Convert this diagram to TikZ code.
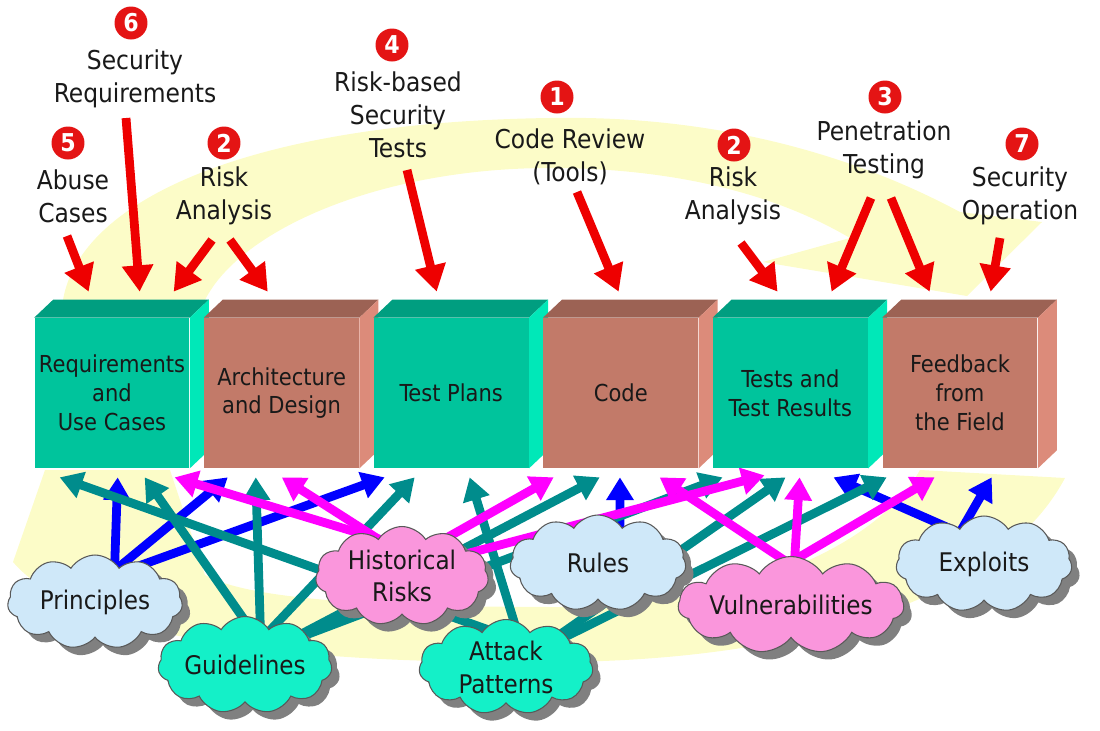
\documentclass[tikz,border=0pt]{standalone}
\usepackage{fontspec}
\setmainfont{DejaVu Sans Condensed}
\usetikzlibrary{shapes.symbols,shadows,arrows.meta,calc}
\pgfdeclarelayer{back}
\pgfdeclarelayer{mid}
\pgfsetlayers{back,mid,main}
\definecolor{yel}{RGB}{252,252,200}
\definecolor{gfront}{RGB}{0,196,156}
\definecolor{gside}{RGB}{0,232,184}
\definecolor{gtop}{RGB}{0,158,128}
\definecolor{bfront}{RGB}{194,122,105}
\definecolor{bside}{RGB}{220,139,122}
\definecolor{btop}{RGB}{156,98,84}
\definecolor{lblue}{RGB}{207,232,249}
\definecolor{lpink}{RGB}{250,150,220}
\definecolor{aqua}{RGB}{20,240,200}
\definecolor{tealc}{RGB}{0,140,140}
\definecolor{bluec}{RGB}{0,0,255}
\definecolor{magc}{RGB}{255,0,255}
\definecolor{redc}{RGB}{238,0,0}
\definecolor{numred}{RGB}{228,20,20}
\definecolor{txt}{RGB}{25,25,25}
\newcommand{\drawfaces}[3]{%
  \fill[#2] (#1.north west) -- ++(19,-18) -- ($(#1.north east)+(19,-18)$) -- (#1.north east) -- cycle;
  \fill[#3] (#1.north east) -- ++(19,-18) -- ($(#1.south east)+(19,-18)$) -- (#1.south east) -- cycle;}
\begin{document}
\begin{tikzpicture}[x=0.02cm,y=-0.02cm,
  boxnode/.style={minimum width=3.1cm,minimum height=3cm,inner sep=0pt,align=center,text=txt,
    font=\fontsize{13.3}{16.4}\selectfont},
  gbox/.style={boxnode,fill=gfront},
  bbox/.style={boxnode,fill=bfront},
  lab/.style={align=center,inner sep=0pt,text=txt,font=\fontsize{14.8}{18.7}\selectfont},
  numc/.style={circle,fill=numred,text=white,inner sep=0pt,minimum size=0.66cm,
    font=\bfseries\fontsize{14}{14}\selectfont},
  redarr/.style={draw=redc,line width=5pt,-{Triangle[width=17pt,length=15pt]}},
  carr/.style={line width=5pt,-{Triangle[width=15pt,length=13pt]}},
  tarr/.style={carr,draw=tealc,color=tealc},
  barr/.style={carr,draw=bluec,color=bluec},
  marr/.style={carr,draw=magc,color=magc},
  cloudnode/.style={cloud,cloud puffs=11,cloud puff arc=115,cloud ignores aspect,draw=black!65,line width=0.6pt,
    align=center,inner sep=0pt,text=txt,font=\fontsize{14.6}{18.7}\selectfont,
    drop shadow={shadow xshift=4.5pt,shadow yshift=-4.5pt,fill=black!50,opacity=1}}]
\useasboundingbox (0,0) rectangle (1100,731);

% pale yellow cycle band
\begin{pgfonlayer}{back}
\fill[yel] (63,300) .. controls (80,200) and (250,122) .. (550,118)
  .. controls (760,114) and (900,180) .. (960,212) -- (1042,222) -- (967,296) -- (763,262)
  -- (850,238) .. controls (760,185) and (650,168) .. (550,168)
  .. controls (380,168) and (240,230) .. (205,300) -- cycle;
\fill[yel] (45,470) -- (13,562) .. controls (80,640) and (300,665) .. (560,662)
  .. controls (800,660) and (1000,600) .. (1065,478) -- (920,470)
  .. controls (880,540) and (760,605) .. (560,607)
  .. controls (380,607) and (250,600) .. (205,575) -- (170,470) -- cycle;
\end{pgfonlayer}

% boxes
\node[gbox] (b1) at (112,393) {Requirements\\and\\Use Cases};
\drawfaces{b1}{gtop}{gside}
\node[bbox] (b2) at (281.6,393) {Architecture\\and Design};
\drawfaces{b2}{btop}{bside}
\node[gbox] (b3) at (451.2,393) {Test Plans};
\drawfaces{b3}{gtop}{gside}
\node[bbox] (b4) at (620.8,393) {Code};
\drawfaces{b4}{btop}{bside}
\node[gbox] (b5) at (790.4,393) {Tests and\\Test Results};
\drawfaces{b5}{gtop}{gside}
\node[bbox] (b6) at (960,393) {Feedback\\from\\the Field};
\drawfaces{b6}{btop}{bside}

% top labels
\node[lab] (l6) at (135,78.5) {Security\\Requirements};
\node[lab] (l5) at (73,196) {Abuse\\Cases};
\node[lab] (l2a) at (224,196) {Risk\\Analysis};
\node[lab] (l4) at (398,114.7) {Risk-based\\Security\\Tests};
\node[lab] (l1) at (570,156.5) {Code Review\\(Tools)};
\node[lab] (l2b) at (733,196) {Risk\\Analysis};
\node[lab] (l3) at (884,150) {Penetration\\Testing};
\node[lab] (l7) at (1020,196) {Security\\Operation};

\node[numc] (n6) at (131,23) {6};
\node[numc] (n5) at (68,143) {5};
\node[numc] (n2a) at (224,143) {2};
\node[numc] (n4) at (392,45) {4};
\node[numc] (n1) at (557,97) {1};
\node[numc] (n2b) at (734,145) {2};
\node[numc] (n3) at (885,97) {3};
\node[numc] (n7) at (1022,144) {7};

% red arrows
\draw[redarr] ($(l6.center)+(-9,39.5)$) -- ($(b1.north west)+(105.5,-26)$);
\draw[redarr] ($(l5.center)+(-6,40)$) -- ($(b1.north west)+(54.5,-26)$);
\draw[redarr] ($(l2a.center)+(-12,44)$) -- ($(b1.north west)+(139.5,-26)$);
\draw[redarr] ($(l2a.center)+(6,44)$) -- ($(b2.north west)+(64,-26)$);
\draw[redarr] ($(l4.center)+(9,55.3)$) -- ($(b3.north west)+(63.3,-26)$);
\draw[redarr] ($(l1.center)+(7,35.5)$) -- ($(b4.north west)+(75.7,-26)$);
\draw[redarr] ($(l2b.center)+(8,47)$) -- ($(b5.north west)+(65,-26)$);
\draw[redarr] ($(l3.center)+(-13,48)$) -- ($(b5.north west)+(119,-26)$);
\draw[redarr] ($(l3.center)+(7,48)$) -- ($(b6.north west)+(47.5,-26)$);
\draw[redarr] ($(l7.center)+(-20,42)$) -- ($(b6.north west)+(108.5,-26)$);

% clouds
\node[cloudnode,fill=lblue,minimum width=3.5cm,minimum height=1.88cm] (P) at (95,602) {Principles};
\node[cloudnode,fill=lpink,minimum width=3.46cm,minimum height=1.98cm] (HR) at (402,576) {Historical\\Risks};
\node[cloudnode,fill=lblue,minimum width=3.52cm,minimum height=1.92cm] (R) at (598,563) {Rules};
\node[cloudnode,fill=lblue,minimum width=3.52cm,minimum height=1.92cm] (X) at (984,564) {Exploits};
\node[cloudnode,fill=aqua,minimum width=3.48cm,minimum height=1.94cm] (G) at (245,665) {Guidelines};
\node[cloudnode,fill=aqua,minimum width=3.48cm,minimum height=1.9cm] (AP) at (506,667) {Attack\\Patterns};
\node[cloudnode,fill=lpink,minimum width=4.42cm,minimum height=1.94cm] (V) at (791,605) {Vulnerabilities};

% cloud-to-box arrows
\begin{pgfonlayer}{mid}
\draw[barr] ($(P.center)+(19,-17)$) -- ($(b1.south west)+(83.5,9)$);
\draw[barr] ($(P.center)+(7,-21)$) -- ($(b2.south west)+(24,9)$);
\draw[barr] ($(P.center)+(27,-30)$) -- ($(b3.south west)+(11.3,9)$);
\draw[barr] ($(R.center)+(22,-18)$) -- ($(b4.south west)+(77,9)$);
\draw[barr] ($(X.center)+(-10,-25)$) -- ($(b5.south west)+(121,9)$);
\draw[barr] ($(X.center)+(-32,-18)$) -- ($(b6.south west)+(109.5,9)$);
\draw[tarr] ($(AP.center)+(-3,-32)$) -- ($(b1.south west)+(25.5,9)$);
\draw[tarr] ($(G.center)+(17,-20)$) -- ($(b1.south west)+(110.5,9)$);
\draw[tarr] ($(G.center)+(16,-15)$) -- ($(b2.south west)+(52,9)$);
\draw[tarr] ($(G.center)+(14,-23)$) -- ($(b3.south west)+(41.3,9)$);
\draw[tarr] ($(G.center)+(43,-24)$) -- ($(b4.south west)+(56.7,9)$);
\draw[tarr] ($(G.center)+(45,-24)$) -- ($(b5.south west)+(10,9)$);
\draw[tarr] ($(AP.center)+(18,-13)$) -- ($(b3.south west)+(96.3,9)$);
\draw[tarr] ($(AP.center)+(46,-27)$) -- ($(b5.south west)+(73,9)$);
\draw[tarr] ($(AP.center)+(49,-25)$) -- ($(b6.south west)+(4.5,9)$);
\draw[marr] ($(HR.center)+(0,-30)$) -- ($(b1.south west)+(140.5,9)$);
\draw[marr] ($(HR.center)+(-2,-23)$) -- ($(b2.south west)+(78,9)$);
\draw[marr] ($(HR.center)+(32,-31)$) -- ($(b4.south west)+(10.7,9)$);
\draw[marr] ($(HR.center)+(56,-20)$) -- ($(b5.south west)+(52,7)$);
\draw[marr] ($(V.center)+(14,-31)$) -- ($(b4.south west)+(116.7,9)$);
\draw[marr] ($(V.center)+(2,-18)$) -- ($(b5.south west)+(87,9)$);
\draw[marr] ($(V.center)+(-17,-33)$) -- ($(b6.south west)+(52.5,9)$);
\end{pgfonlayer}
\end{tikzpicture}
\end{document}
